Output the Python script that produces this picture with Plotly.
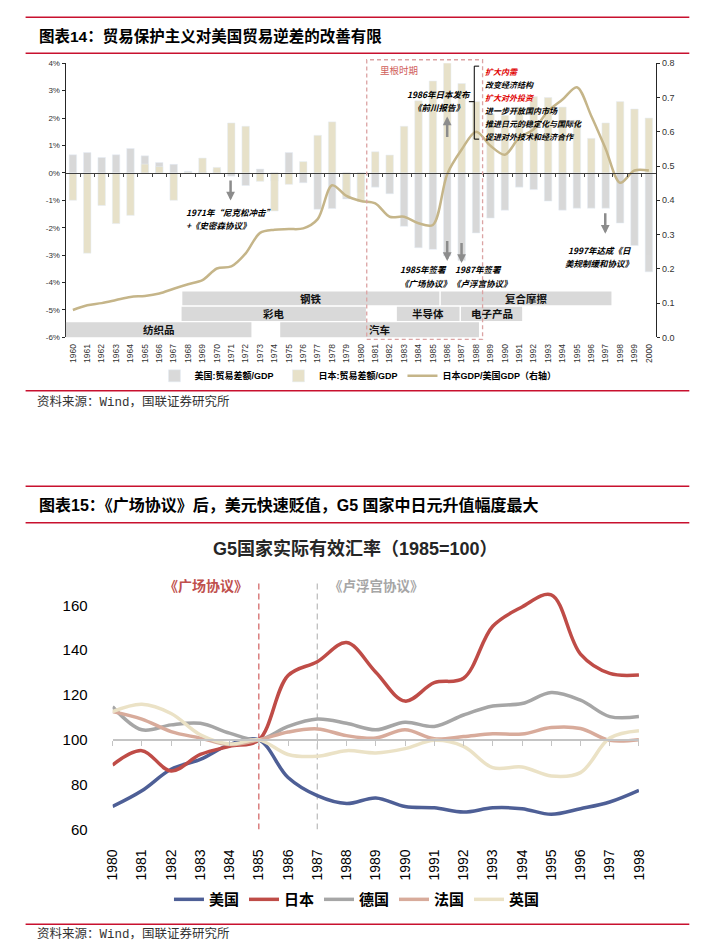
import plotly.graph_objects as go

W, H = 711, 950
def px(x): return x / W
def py(y): return 1 - y / H

# ---------------- Chart 1 data ----------------
years1 = list(range(1960, 2001))
us_trade = [0.66, 0.74, 0.56, 0.66, 0.89, 0.62, 0.38, 0.31, 0.06, 0.05,
            0.12, -0.12, -0.46, 0.14, -0.30, 0.74, -0.36, -1.33, -1.30, -0.95,
            -0.72, -0.52, -0.76, -1.95, -2.73, -2.79, -3.03, -3.20, -2.19, -1.65,
            -1.36, -0.52, -0.61, -1.03, -1.36, -1.29, -1.29, -1.29, -1.83, -2.65,
            -3.61]
jp_trade = [-1.00, -2.93, -1.19, -1.85, -1.55, 0.32, 0.23, -1.00, 0.03, 0.54,
            0.20, 1.82, 1.70, -0.31, -1.39, -0.42, 0.41, 1.37, 1.86, -0.88,
            -1.05, 0.77, 0.65, 1.70, 2.63, 3.35, 4.02, 3.26, 2.60, 2.15,
            2.10, 2.40, 2.78, 2.75, 2.40, 1.92, 1.26, 1.82, 2.60, 2.33,
            2.00]
jp_us_gdp = [0.080, 0.094, 0.100, 0.109, 0.118, 0.121, 0.128, 0.142, 0.155, 0.167,
             0.201, 0.207, 0.245, 0.305, 0.314, 0.316, 0.318, 0.345, 0.444, 0.413,
             0.398, 0.391, 0.352, 0.352, 0.333, 0.328, 0.477, 0.548, 0.600, 0.559,
             0.533, 0.583, 0.607, 0.660, 0.694, 0.730, 0.646, 0.550, 0.451, 0.487,
             0.487]
left_ticks = [-6, -5, -4, -3, -2, -1, 0, 1, 2, 3, 4]
left_ticktext = ['-6%', '-5%', '-4%', '-3%', '-2%', '-1%', '0%', '1%', '2%', '3%', '4%']
right_ticks = [0.0, 0.1, 0.2, 0.3, 0.4, 0.5, 0.6, 0.7, 0.8]

# industry friction bands: (label, start year, end year, row)
bands = [('钢铁', 1967.6, 1985.45, 0), ('复合摩擦', 1985.55, 1997.4, 0),
         ('彩电', 1967.55, 1980.35, 1), ('半导体', 1982.5, 1986.85, 1), ('电子产品', 1986.95, 1991.2, 1),
         ('纺织品', 1959.5, 1972.4, 2), ('汽车', 1974.4, 1988.2, 2)]

# ---------------- Chart 2 data ----------------
years2 = list(range(1980, 1999))
usa = [70.3, 77.3, 86.9, 91.3, 97.9, 100, 83.2, 75.1, 71.6, 74.1,
       70.3, 69.7, 67.8, 69.7, 69.3, 66.8, 69.3, 72.3, 77.5]
japan = [88.8, 95.2, 86.1, 93.5, 97.1, 100, 128.7, 134.9, 143.4, 130.2,
         117.3, 125.5, 127.5, 150.7, 159.3, 164.7, 138.3, 129.7, 129.0]
germany = [114.8, 104.5, 106.7, 107.4, 103.0, 100, 106.0, 109.3, 107.4, 104.5,
           107.9, 106.0, 111.1, 115.1, 116.2, 121.1, 117.7, 110.4, 110.4]
france = [112.6, 109.3, 103.7, 100.8, 97.9, 100, 103.5, 104.9, 101.9, 100.8,
          104.5, 100.5, 101.5, 102.7, 102.6, 105.5, 105.1, 99.8, 100.1]
uk = [112.6, 115.9, 111.8, 102.3, 98.2, 100, 93.5, 92.7, 95.2, 94.2,
      96.1, 99.8, 97.1, 87.6, 87.9, 83.9, 85.4, 100.8, 104.1]
series2 = [('美国', usa, '#4e5f96'), ('日本', japan, '#bf4c47'), ('德国', germany, '#a6a6a6'),
           ('法国', france, '#d8ab9b'), ('英国', uk, '#ebe2c6')]
y2_ticks = [60, 80, 100, 120, 140, 160]

FONT = 'Liberation Sans, Noto Sans CJK SC, sans-serif'
CJK = 'Noto Sans CJK SC, Liberation Sans, sans-serif'
MONO = 'Liberation Mono, Noto Sans CJK SC, monospace'

fig = go.Figure()

# chart 1 traces
fig.add_trace(go.Bar(x=years1, y=us_trade, name='美国:贸易差额/GDP', marker_color='#d9d9d9',
                     width=0.52, xaxis='x', yaxis='y', legend='legend'))
fig.add_trace(go.Bar(x=years1, y=jp_trade, name='日本:贸易差额/GDP', marker_color='#e6e0c7',
                     opacity=0.95, width=0.52, xaxis='x', yaxis='y', legend='legend'))
fig.add_trace(go.Scatter(x=years1, y=jp_us_gdp, name='日本GDP/美国GDP（右轴）', mode='lines',
                         line=dict(color='#c5b589', width=2.5, shape='spline', smoothing=0.9),
                         xaxis='x', yaxis='y2', legend='legend'))
fig.add_trace(go.Scatter(x=[years1[0]], y=[None], xaxis='x2', yaxis='y', showlegend=False,
                         hoverinfo='skip', mode='markers'))

# chart 2 traces
for name, vals, col in series2:
    fig.add_trace(go.Scatter(x=years2, y=vals, name=name, mode='lines',
                             line=dict(color=col, width=3.5, shape='spline', smoothing=1.0),
                             xaxis='x3', yaxis='y3', legend='legend2'))
fig.add_trace(go.Scatter(x=[years2[0]], y=[None], xaxis='x4', yaxis='y3', showlegend=False,
                         hoverinfo='skip', mode='markers'))

c1x = [px(59), px(663)]
c1y = [py(337), py(59)]
c2x = [px(107), px(645.5)]
c2y = [py(836), py(586)]
zero_pos = c1y[0] + 0.6 * (c1y[1] - c1y[0])
hundred_pos = c2y[0] + (40 / 110) * (c2y[1] - c2y[0])

fig.update_layout(
    width=W, height=H, margin=dict(l=0, r=0, t=0, b=0),
    paper_bgcolor='white', plot_bgcolor='rgba(0,0,0,0)',
    barmode='overlay', font=dict(family=FONT, color='#000000'),
    xaxis=dict(domain=c1x, range=[1959.5, 2000.5], anchor='y', tickmode='array', tickvals=years1,
               ticktext=[str(y) for y in years1], tickangle=-90, tickfont=dict(size=8.5, color='#333333'),
               showline=False, showgrid=False, zeroline=False, ticks='', ticklabelstandoff=4),
    xaxis2=dict(overlaying='x', anchor='free', position=zero_pos, range=[1959.5, 2000.5],
                tickmode='array', tickvals=[y + 0.5 for y in years1[:-1]], showticklabels=False,
                showline=True, linecolor='#404040', linewidth=1.2, ticks='outside', ticklen=3,
                tickcolor='#404040', showgrid=False, zeroline=False),
    yaxis=dict(domain=c1y, range=[-6, 4], anchor='x', tickmode='array', tickvals=left_ticks,
               ticktext=left_ticktext, tickfont=dict(size=8, color='#333333'), showline=True,
               linecolor='#262626', linewidth=1.2, ticks='outside', ticklen=3, tickcolor='#262626',
               showgrid=False, zeroline=False),
    yaxis2=dict(overlaying='y', side='right', anchor='x', range=[0, 0.8], tickmode='array',
                tickvals=right_ticks, ticktext=['%.1f' % v for v in right_ticks],
                tickfont=dict(size=9, color='#333333'), showline=True, linecolor='#262626',
                linewidth=1.2, ticks='outside', ticklen=3, tickcolor='#262626',
                showgrid=False, zeroline=False),
    xaxis3=dict(domain=c2x, range=[1980, 1998], anchor='y3', tickmode='array', tickvals=years2,
                ticktext=[str(y) for y in years2], tickangle=-90, tickfont=dict(size=14, color='#000000'),
                showline=False, showgrid=False, zeroline=False, ticks='', ticklabelstandoff=16),
    xaxis4=dict(overlaying='x3', anchor='free', position=hundred_pos, range=[1980, 1998],
                tickmode='array', tickvals=years2, showticklabels=False, showline=True,
                linecolor='#c4c4c4', linewidth=1.5, ticks='outside', ticklen=5, tickcolor='#c4c4c4',
                showgrid=False, zeroline=False),
    yaxis3=dict(domain=c2y, range=[60, 170], anchor='x3', tickmode='array', tickvals=y2_ticks,
                tickfont=dict(size=15, color='#000000'), showline=False, showgrid=False,
                zeroline=False, ticks='', ticklabelstandoff=24),
    legend=dict(orientation='h', x=px(358), xanchor='center', y=py(376), yanchor='middle',
                font=dict(size=9, family=FONT, color='#000000', weight='bold'), itemwidth=30,
                bgcolor='rgba(0,0,0,0)'),
    legend2=dict(orientation='h', x=px(357), xanchor='center', y=py(907), yanchor='middle',
                 font=dict(size=15, family=FONT, color='#000000', weight='bold'), itemwidth=30,
                 bgcolor='rgba(0,0,0,0)'),
    showlegend=True,
)

shapes = []
anns = []
RED = '#c8102e'
for yy in [12.5, 49, 391, 488, 525, 932]:
    shapes.append(dict(type='line', xref='paper', yref='paper', x0=px(18), x1=px(697),
                       y0=py(yy), y1=py(yy), line=dict(color=RED, width=1.5)))

# titles
anns.append(dict(text='<b>图表14：贸易保护主义对美国贸易逆差的改善有限</b>', x=px(30), y=py(31),
                 xanchor='left', yanchor='middle', font=dict(size=15.5, family=FONT, color='#000')))
anns.append(dict(text='<b>图表15：《广场协议》后，美元快速贬值，G5 国家中日元升值幅度最大</b>', x=px(30), y=py(507),
                 xanchor='left', yanchor='middle', font=dict(size=16, family=FONT, color='#000')))
anns.append(dict(text='<b>G5国家实际有效汇率（1985=100）</b>', x=px(355), y=py(551),
                 xanchor='center', yanchor='middle', font=dict(size=18, family=FONT, color='#262626')))
for yy in [403, 942]:
    anns.append(dict(text='资料来源：Wind，国联证券研究所', x=px(28), y=py(yy), xanchor='left',
                     yanchor='middle', font=dict(size=12.5, family=MONO, color='#333333')))

# chart 1 bands
rows = [(-4.33, -4.83), (-4.88, -5.40), (-5.45, -6.0)]
for label, s, e, r in bands:
    y0, y1 = rows[r]
    shapes.append(dict(type='rect', xref='x', yref='y', x0=s, x1=e, y0=y1, y1=y0,
                       fillcolor='#d9d9d9', line=dict(width=0), layer='above'))
    anns.append(dict(text='<b>%s</b>' % label, x=(s + e) / 2, y=(y0 + y1) / 2, xref='x', yref='y',
                     xanchor='center', yanchor='middle', font=dict(size=10.5, family=CJK, color='#111')))

# Reagan period box
shapes.append(dict(type='rect', xref='paper', yref='paper', x0=px(367), x1=px(485.5), y0=py(339), y1=py(55.5),
                   line=dict(color='#dba3a3', width=1.3, dash='4px,3px'), fillcolor='rgba(0,0,0,0)', layer='above'))
anns.append(dict(text='里根时期', x=px(400), y=py(66), xanchor='center', yanchor='middle',
                 font=dict(size=9.5, family=CJK, color='#d0605b')))

# bracket
for (xa, ya, xb, yb) in [(477, 62, 477, 136), (477, 62, 482, 62), (477, 136, 482, 136), (471.5, 98, 477, 98)]:
    shapes.append(dict(type='line', xref='paper', yref='paper', x0=px(xa), y0=py(ya), x1=px(xb), y1=py(yb),
                       line=dict(color='#000', width=1)))
bracket_lines = [('扩大内需', '#e00000'), ('改变经济结构', '#000'), ('扩大对外投资', '#e00000'),
                 ('进一步开放国内市场', '#000'), ('推进日元的稳定化与国际化', '#000'), ('促进对外技术和经济合作', '#000')]
for i, (t, c) in enumerate(bracket_lines):
    anns.append(dict(text='<b><i>%s</i></b>' % t, x=px(486), y=py(67 + i * 13.3), xanchor='left', yanchor='middle',
                     font=dict(size=8, family=CJK, color=c)))

# event texts
ev = [('1971年“尼克松冲击”', 180, 210, 'left'), ('+《史密森协议》', 180, 223.5, 'left'),
      ('1986年日本发布', 441, 90, 'center'), ('《前川报告》', 440, 103, 'center'),
      ('1985年签署', 425, 268, 'center'), ('《广场协议》', 427, 281.5, 'center'),
      ('1987年签署', 481, 268, 'center'), ('《卢浮宫协议》', 485, 281.5, 'center'),
      ('1997年达成《日', 605, 248, 'center'), ('美规制缓和协议》', 605, 261.5, 'center')]
for t, x, y, a in ev:
    anns.append(dict(text='<b><i>%s</i></b>' % t, x=px(x), y=py(y), xanchor=a, yanchor='middle',
                     font=dict(size=8.5, family=CJK, color='#000')))

# arrows (tip x, tail y, tip y)
for x, tail, tip in [(227.7, 176.7, 198.3), (449.3, 135, 113), (449.3, 238, 259.5), (464, 240, 261.5), (611, 210, 232)]:
    anns.append(dict(text='', x=px(x), y=py(tip), ax=0, ay=tail - tip, showarrow=True, arrowhead=2,
                     arrowsize=0.7, arrowwidth=2.5, arrowcolor='#8c8c8c', standoff=0))

# chart 2 vertical markers
shapes.append(dict(type='line', xref='x3', yref='y3', x0=1985, x1=1985, y0=60, y1=170,
                   line=dict(color='#d46a6a', width=1.3, dash='6px,4px'), layer='below'))
shapes.append(dict(type='line', xref='x3', yref='y3', x0=1987, x1=1987, y0=60, y1=170,
                   line=dict(color='#bfbfbf', width=1.3, dash='6px,4px'), layer='below'))
anns.append(dict(text='<b>《广场协议》</b>', x=px(203), y=py(588), xanchor='center', yanchor='middle',
                 font=dict(size=14, family=CJK, color='#c0504d')))
anns.append(dict(text='<b>《卢浮宫协议》</b>', x=px(377), y=py(588), xanchor='center', yanchor='middle',
                 font=dict(size=13.5, family=CJK, color='#a6a6a6')))

for a in anns:
    a.setdefault('xref', 'paper')
    a.setdefault('yref', 'paper')
    a.setdefault('showarrow', False)

fig.update_layout(shapes=shapes, annotations=anns)
fig.write_html('out.html')
